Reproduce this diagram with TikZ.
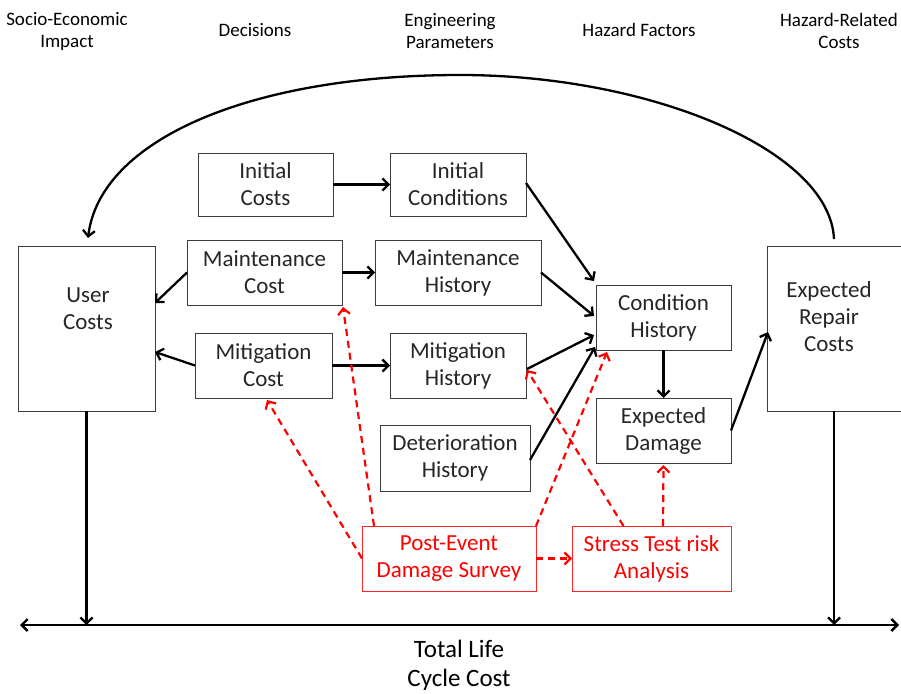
\documentclass[tikz,border=0pt]{standalone}
\usepackage{fontspec}
\setmainfont{Carlito}
\usetikzlibrary{arrows.meta}
\definecolor{boxline}{RGB}{60,60,60}
\definecolor{hazred}{RGB}{255,0,0}
\begin{document}
\begin{tikzpicture}[x=1pt,y=-1pt,
  every node/.style={inner sep=0pt, outer sep=0pt},
  boxtext/.style={align=center, font=\fontsize{23}{27}\selectfont, text=black!85},
  box/.style={boxtext, draw=boxline, line width=1pt},
  redbox/.style={draw=hazred!85, line width=1pt, align=center, font=\fontsize{23}{27}\selectfont, text=hazred},
  header/.style={align=center, font=\fontsize{19}{22}\selectfont},
  link/.style={line width=2.3pt, -{Straight Barb[length=6pt,width=12pt]}},
  redlink/.style={line width=2.2pt, hazred, dash pattern=on 7pt off 5pt, -{Straight Barb[length=6pt,width=12pt]}}
]
\useasboundingbox (0,0) rectangle (901,693);

% column headings
\node[header] (hSocio) at (67,31) {Socio-Economic\\Impact};
\node[header] (hDec) at (255,30) {Decisions};
\node[header] (hEng) at (450,31) {Engineering\\Parameters};
\node[header] (hHaz) at (639,30) {Hazard Factors};
\node[header] (hCost) at (839,31) {Hazard-Related\\Costs};

% tall cost boxes, with their labels set higher than centre
\node[box, minimum width=137pt, minimum height=165pt] (user) at (86.5,328.5) {};
\node[boxtext] (userT) at (88,309) {User\\Costs};
\node[box, minimum width=134pt, minimum height=165pt] (erc) at (834,328.5) {};
\node[boxtext] (ercT) at (829,317) {Expected\\Repair\\Costs};

% decision and parameter boxes
\node[box, minimum width=135pt, minimum height=63pt] (ic) at (265.5,184.5) {Initial\\Costs};
\node[box, minimum width=136pt, minimum height=63pt] (icond) at (458,184.5) {Initial\\Conditions};
\node[box, minimum width=155pt, minimum height=65pt] (mc) at (264.5,272.5) {Maintenance\\Cost};
\node[box, minimum width=166pt, minimum height=65pt] (mh) at (458,272.5) {Maintenance\\History};
\node[box, minimum width=137pt, minimum height=65pt] (mitc) at (263.5,365.5) {Mitigation\\Cost};
\node[box, minimum width=136pt, minimum height=65pt] (mith) at (458,365.5) {Mitigation\\History};
\node[box, minimum width=150pt, minimum height=66pt] (dh) at (455,458) {Deterioration\\History};
\node[box, minimum width=135pt, minimum height=65pt] (ch) at (663.5,317.5) {Condition\\History};
\node[box, minimum width=135pt, minimum height=65pt] (ed) at (663.5,430.5) {Expected\\Damage};

% hazard survey boxes
\node[redbox, minimum width=174pt, minimum height=65pt] (pes) at (449,558.5) {Post-Event\\Damage Survey};
\node[redbox, minimum width=159pt, minimum height=65pt] (st) at (651.5,558.5) {Stress Test risk\\Analysis};

% total life cycle cost axis
\coordinate (axL) at (20,625);
\coordinate (axR) at (899,625);
\draw[line width=2.4pt, {Straight Barb[length=6pt,width=12pt]}-{Straight Barb[length=6pt,width=12pt]}] (axL) -- (axR);
\node[font=\fontsize{25}{29}\selectfont, align=center] (tlc) at (459,665) {Total Life\\Cycle Cost};
\draw[link] (user.south) -- (user.south |- axL);
\draw[link] (erc.south) -- (erc.south |- axL);

% feedback arc from repair costs to user costs
\coordinate (arcS) at (834,239);
\coordinate (arcE) at (88,238);
\draw[line width=2.3pt, -{Straight Barb[length=6pt,width=12pt]}]
  (arcS) .. controls (830,150) and (650,75) .. (460,75)
  .. controls (250,75) and (100,140) .. (arcE);

% black connectors
\draw[link] (ic.east) -- (icond.west);
\draw[link] (mc.east) -- (mh.west);
\draw[link] (mitc.east) -- (mith.west);
\draw[link] (mc.west) -- ([yshift=25.5pt]user.east);
\draw[link] (mitc.west) -- ([yshift=-23.5pt]user.east);
\draw[link] ([yshift=1.5pt]icond.east) -- ([xshift=-2pt,yshift=4pt]ch.north west);
\draw[link] (mh.east) -- ([xshift=-2pt,yshift=1.5pt]ch.west);
\draw[link] ([xshift=1pt,yshift=-3.5pt]mith.east) -- ([xshift=-2pt,yshift=-17.5pt]ch.west);
\draw[link] ([yshift=-2pt]dh.east) -- ([xshift=-1pt,yshift=3pt]ch.south west);
\draw[link] (ch.south) -- (ed.north);
\draw[link] (ed.east) -- ([xshift=1pt,yshift=-3.5pt]erc.west);

% red dashed connectors
\draw[redlink] ([xshift=12pt]pes.north west) -- ([xshift=1pt,yshift=-2pt]mc.south east);
\draw[redlink] (pes.west) -- ([xshift=3.5pt,yshift=-2pt]mitc.south);
\draw[redlink] (pes.north east) -- ([xshift=11pt,yshift=-2pt]ch.south west);
\draw[redlink] ([xshift=-28pt]st.north) -- ([xshift=1pt,yshift=-4.5pt]mith.east);
\draw[redlink] ([xshift=11.5pt]st.north) -- ([yshift=-2pt]ed.south);
\draw[redlink] (pes.east) -- (st.west);
\end{tikzpicture}
\end{document}
